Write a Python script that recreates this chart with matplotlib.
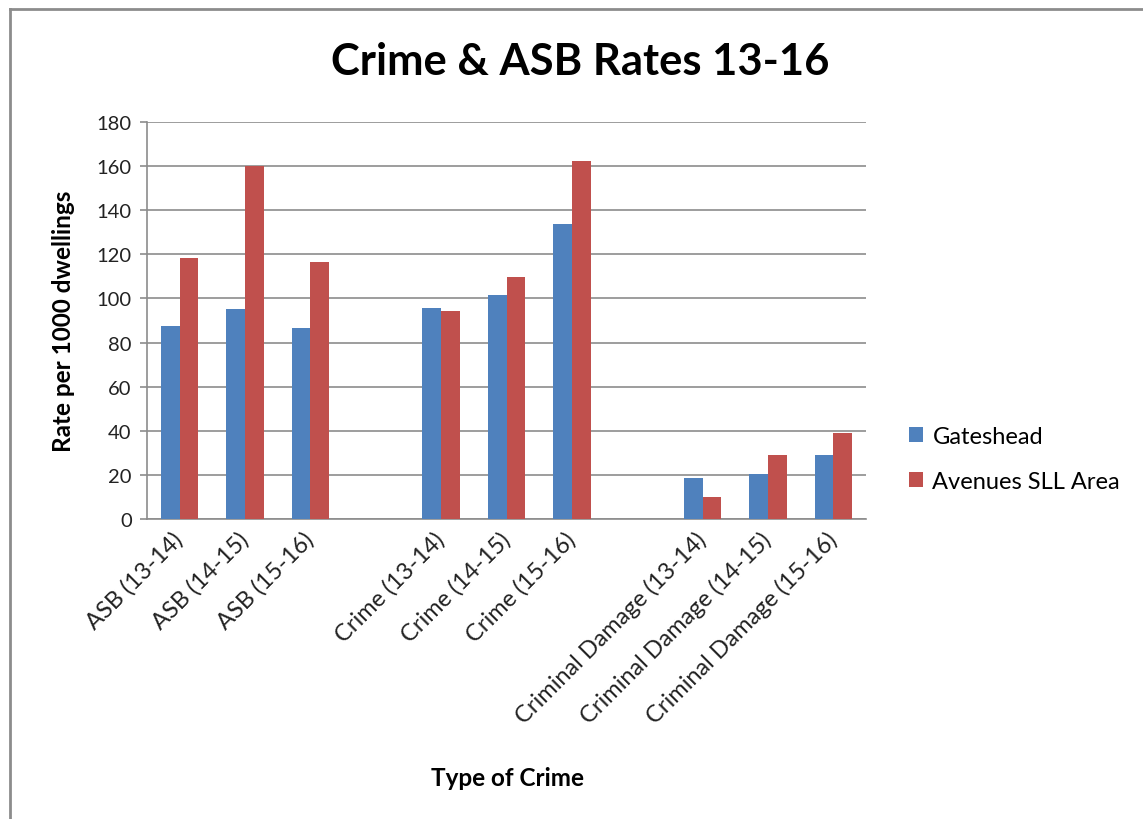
import numpy as np
import matplotlib
matplotlib.use("Agg")
import matplotlib.pyplot as plt
from matplotlib.lines import Line2D

plt.rcParams['font.family'] = ['Lato', 'DejaVu Sans']

categories = ["ASB (13-14)", "ASB (14-15)", "ASB (15-16)", "",
              "Crime (13-14)", "Crime (14-15)", "Crime (15-16)", "",
              "Criminal Damage (13-14)", "Criminal Damage (14-15)",
              "Criminal Damage (15-16)"]
gateshead = [87.6, 95.1, 86.8, np.nan, 95.7, 101.6, 133.6, np.nan, 18.7, 20.3, 29.2]
avenues = [118.4, 160.0, 116.6, np.nan, 94.5, 109.7, 162.1, np.nan, 10.1, 29.2, 39.1]
yticks = [0, 20, 40, 60, 80, 100, 120, 140, 160, 180]

blue = '#4f81bd'
red = '#c0504d'

fig = plt.figure(figsize=(11.43, 8.2), dpi=100)
ax = fig.add_axes([0.1286, 0.3659, 0.6291, 0.4841])

x = np.arange(len(categories))
w = 1 / 3.5
ax.bar(x - w / 2, gateshead, w, color=blue, label='Gateshead', zorder=3)
ax.bar(x + w / 2, avenues, w, color=red, label='Avenues SLL Area', zorder=3)

ax.set_xlim(-0.5, len(categories) - 0.5)
ax.set_ylim(0, 180)
ax.set_yticks(yticks)
ax.yaxis.grid(True, color='#8c8c8c', linewidth=1.2, zorder=0)
ax.set_xticks(x)
ax.set_xticklabels(categories, rotation=45, ha='right', va='center',
                   rotation_mode='anchor', fontsize=17, color='#222222')
ax.tick_params(axis='x', length=0, pad=12)
ax.tick_params(axis='y', length=5, width=1.2, color='#8c8c8c', labelsize=14.5,
               labelcolor='#222222', pad=6)
for s in ['top', 'right']:
    ax.spines[s].set_visible(False)
for s in ['left', 'bottom']:
    ax.spines[s].set_color('#8c8c8c')
    ax.spines[s].set_linewidth(1.2)

ax.set_ylabel('Rate per 1000 dwellings', fontsize=17.5, fontweight='bold')
ax.yaxis.set_label_coords(-0.100, 0.5)
fig.text(0.444, 0.051, 'Type of Crime', fontsize=17.5, fontweight='bold',
         ha='center', va='center')
fig.text(0.508, 0.924, 'Crime & ASB Rates 13-16', fontsize=31.3, fontweight='bold',
         ha='center', va='center')

ax.legend(loc='center left', bbox_to_anchor=(1.030, 0.151), frameon=False,
          fontsize=17, handlelength=0.6, handleheight=0.6, handletextpad=0.4,
          labelspacing=1.0)

# outer chart frame (left and top edges visible)
fig.add_artist(Line2D([0.009, 0.009], [0, 0.988], color='#8c8c8c', linewidth=2))
fig.add_artist(Line2D([0.009, 1], [0.988, 0.988], color='#8c8c8c', linewidth=2))

fig.savefig('out.png', dpi=100)
